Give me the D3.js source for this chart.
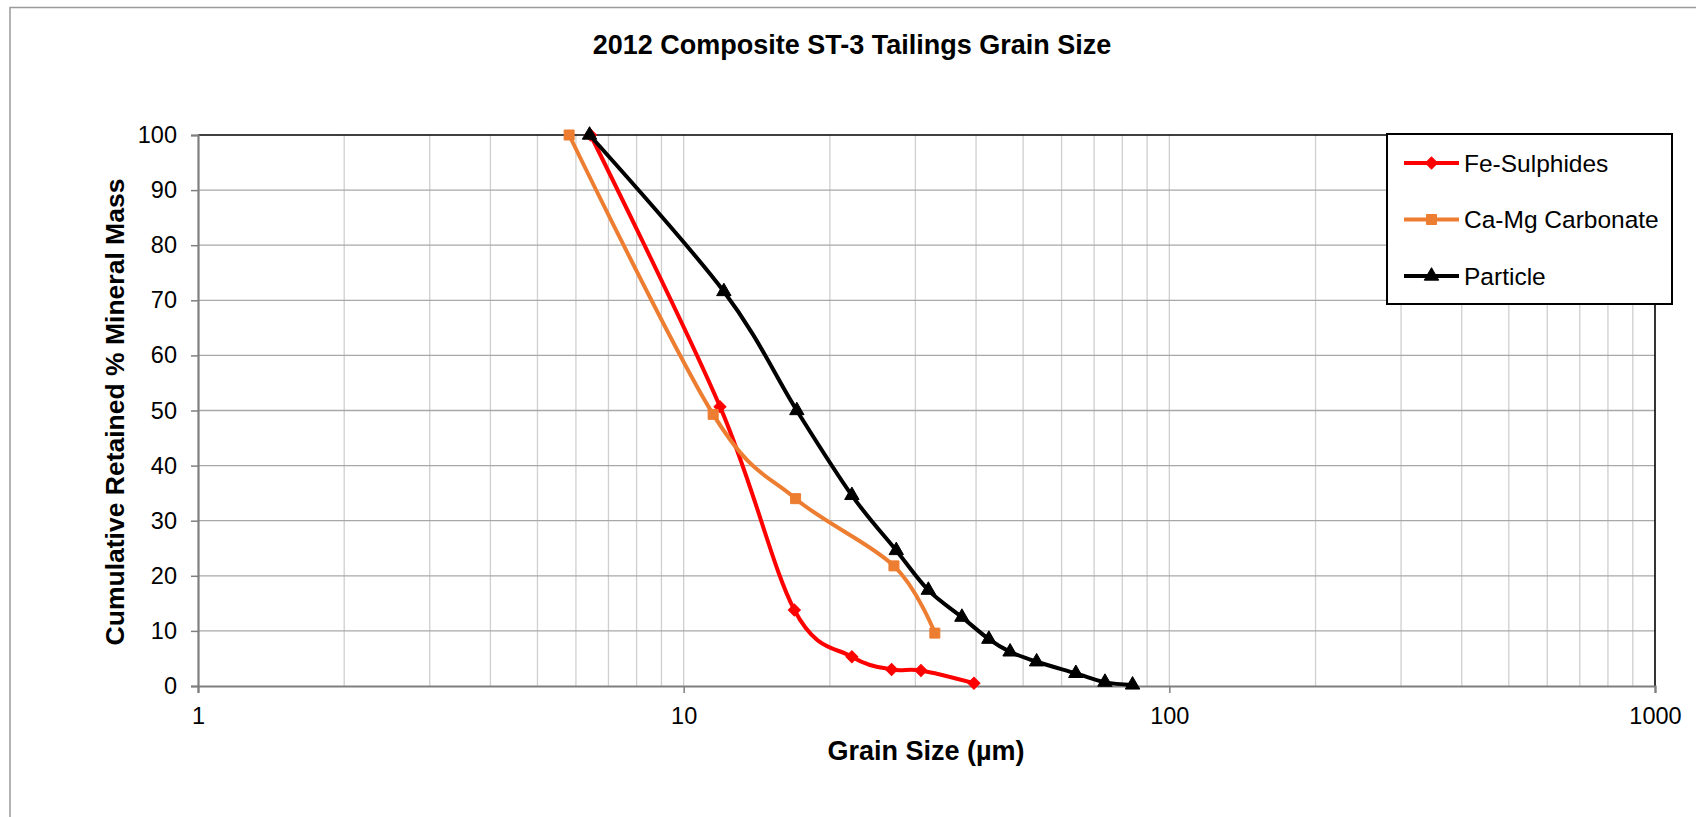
<!DOCTYPE html>
<html>
<head>
<meta charset="utf-8">
<script src="https://cdn.jsdelivr.net/npm/d3@7"></script>
<style>
  html, body { margin: 0; padding: 0; background: #fff; }
  svg { display: block; font-family: "Liberation Sans", Arial, sans-serif; }
</style>
</head>
<body>
<svg id="chart" width="1696" height="817"></svg>
<script>
// ---- Data ----
const chartTitle = "2012 Composite ST-3 Tailings Grain Size";
const xTitle = "Grain Size (µm)";
const yTitle = "Cumulative Retained % Mineral Mass";
const seriesNames = ["Fe-Sulphides", "Ca-Mg Carbonate", "Particle"];

const feSize = [6.43, 11.88, 16.9, 22.2, 26.8, 30.8, 39.6];
const feValue = [100, 50.7, 13.8, 5.3, 3.0, 2.8, 0.5];

const caSize = [5.81, 11.5, 17.0, 27.1, 32.9];
const caValue = [100, 49.3, 34.0, 21.8, 9.6];

const particleSize = [6.4, 12.1, 17.1, 22.2, 27.4, 31.9, 37.4, 42.5, 47.0, 53.3, 64.2, 73.7, 84.0];
const particleValue = [100, 71.6, 50.0, 34.6, 24.6, 17.4, 12.5, 8.5, 6.2, 4.4, 2.3, 0.7, 0.2];

const xTickValues = [1, 10, 100, 1000];
const xTickLabels = ["1", "10", "100", "1000"];
const yTickValues = [0, 10, 20, 30, 40, 50, 60, 70, 80, 90, 100];

// ---- Layout ----
const svg = d3.select("#chart");
const plot = { left: 198, right: 1655, top: 135, bottom: 686 };

const x = d3.scaleLog().domain([1, 1000]).range([plot.left, plot.right]);
const y = d3.scaleLinear().domain([0, 100]).range([plot.bottom, plot.top]);

const colors = ["#FF0000", "#ED7D31", "#000000"];
const markers = [d3.symbolSquare, d3.symbolSquare, d3.symbolTriangle];
const markerRot = [45, 0, 0];
const markerSizes = [72, 100, 90];

const series = [
  { name: seriesNames[0], xs: feSize, ys: feValue },
  { name: seriesNames[1], xs: caSize, ys: caValue },
  { name: seriesNames[2], xs: particleSize, ys: particleValue }
];

// outer chart border
svg.append("rect")
  .attr("x", 10).attr("y", 7.5)
  .attr("width", 1720).attr("height", 830)
  .attr("fill", "none").attr("stroke", "#9a9a9a").attr("stroke-width", 1.5);

// title
svg.append("text")
  .attr("x", 852).attr("y", 54)
  .attr("text-anchor", "middle")
  .attr("font-size", 27).attr("font-weight", "bold")
  .text(chartTitle);

// minor vertical gridlines
const minorX = [];
for (let d = 1; d < 1000; d *= 10) {
  for (let k = 1; k <= 9; k++) {
    const v = d * k;
    if (v > 1 && v < 1000) minorX.push(v);
  }
}
svg.append("g").selectAll("line").data(minorX).join("line")
  .attr("x1", d => x(d)).attr("x2", d => x(d))
  .attr("y1", plot.top).attr("y2", plot.bottom)
  .attr("stroke", "#cfcfcf").attr("stroke-width", 1.3);

// horizontal gridlines
svg.append("g").selectAll("line").data(yTickValues.filter(v => v > 0 && v < 100)).join("line")
  .attr("x1", plot.left).attr("x2", plot.right)
  .attr("y1", d => y(d)).attr("y2", d => y(d))
  .attr("stroke", "#a8a8a8").attr("stroke-width", 1.3);

// plot border top and right
svg.append("line").attr("x1", plot.left).attr("x2", plot.right)
  .attr("y1", plot.top).attr("y2", plot.top)
  .attr("stroke", "#000").attr("stroke-width", 1.6);
svg.append("line").attr("x1", plot.right).attr("x2", plot.right)
  .attr("y1", plot.top).attr("y2", plot.bottom)
  .attr("stroke", "#000").attr("stroke-width", 1.6);

// y axis
const yAxis = d3.axisLeft(y).tickValues(yTickValues).tickSize(7).tickPadding(14)
  .tickFormat(d3.format("d"));
const gy = svg.append("g").attr("transform", `translate(${plot.left},0)`).call(yAxis);
gy.select(".domain").attr("stroke", "#7f7f7f").attr("stroke-width", 2.2);
gy.selectAll(".tick line").attr("stroke", "#7f7f7f").attr("stroke-width", 1.5);
gy.selectAll(".tick text").attr("font-size", 23.5).attr("fill", "#000")
  .attr("font-family", "Liberation Sans, Arial, sans-serif");

// x axis
const xAxis = d3.axisBottom(x).tickValues(xTickValues).tickSize(7).tickPadding(14)
  .tickFormat((d, i) => xTickLabels[i]);
const gx = svg.append("g").attr("transform", `translate(0,${plot.bottom})`).call(xAxis);
gx.select(".domain").attr("stroke", "#7f7f7f").attr("stroke-width", 2.2);
gx.selectAll(".tick line").attr("stroke", "#7f7f7f").attr("stroke-width", 1.5);
gx.selectAll(".tick text").attr("font-size", 23.5).attr("fill", "#000")
  .attr("font-family", "Liberation Sans, Arial, sans-serif");

// axis titles
svg.append("text")
  .attr("x", 926).attr("y", 760)
  .attr("text-anchor", "middle")
  .attr("font-size", 27).attr("font-weight", "bold")
  .text(xTitle);
svg.append("text")
  .attr("transform", "translate(124,412) rotate(-90)")
  .attr("text-anchor", "middle")
  .attr("font-size", 26.5).attr("font-weight", "bold")
  .text(yTitle);

// series
const line = d3.line()
  .x(d => x(d[0])).y(d => y(d[1]))
  .curve(d3.curveCardinal.tension(0));

series.forEach((s, i) => {
  const pts = s.xs.map((v, j) => [v, s.ys[j]]);
  const g = svg.append("g");
  g.append("path").datum(pts)
    .attr("d", line)
    .attr("fill", "none").attr("stroke", colors[i])
    .attr("stroke-width", 4).attr("stroke-linejoin", "round");
  g.selectAll("path.m").data(pts).join("path")
    .attr("class", "m")
    .attr("transform", d => `translate(${x(d[0])},${y(d[1])}) rotate(${markerRot[i]})`)
    .attr("d", d3.symbol().type(markers[i]).size(markerSizes[i]))
    .attr("fill", colors[i]).attr("stroke", colors[i]).attr("stroke-width", 1);
});

// legend
const lg = svg.append("g");
lg.append("rect")
  .attr("x", 1387).attr("y", 134).attr("width", 285).attr("height", 170)
  .attr("fill", "#fff").attr("stroke", "#000").attr("stroke-width", 2);
const legendY = [163, 219.5, 276];
series.forEach((s, i) => {
  lg.append("line")
    .attr("x1", 1404).attr("x2", 1459)
    .attr("y1", legendY[i]).attr("y2", legendY[i])
    .attr("stroke", colors[i]).attr("stroke-width", 4);
  lg.append("path")
    .attr("transform", `translate(1431.5,${legendY[i]}) rotate(${markerRot[i]})`)
    .attr("d", d3.symbol().type(markers[i]).size(markerSizes[i]))
    .attr("fill", colors[i]).attr("stroke", colors[i]);
  lg.append("text")
    .attr("x", 1464).attr("y", legendY[i] + 8.5)
    .attr("font-size", 24.5)
    .text(s.name);
});
</script>
</body>
</html>
